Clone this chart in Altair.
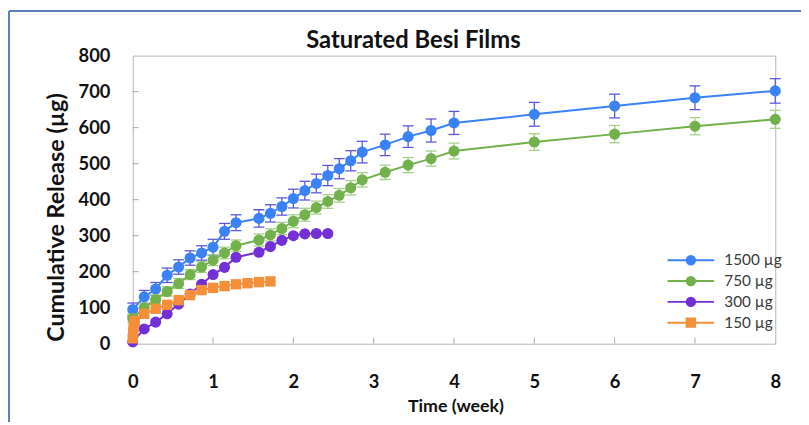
import altair as alt
import pandas as pd

# ---------------- data ----------------
title_text = "Saturated Besi Films"
x_title = "Time (week)"
y_title = "Cumulative Release (µg)"
x_ticks = [0, 1, 2, 3, 4, 5, 6, 7, 8]
y_ticks = [0, 100, 200, 300, 400, 500, 600, 700, 800]
x_minor = [1, 2, 3, 4, 5, 6, 7]
y_minor = [100, 200, 300, 400, 500, 600, 700]

series = ["1500 µg", "750 µg", "300 µg", "150 µg"]
colors = ["#3b82f6", "#72b14c", "#7230d6", "#f58f3a"]
err_colors = ["#5b57d9", "#a4d08a"]

days_1500 = [0, 1, 2, 3, 4, 5, 6, 7, 8, 9, 11, 12, 13, 14, 15, 16, 17, 18, 19, 20, 22, 24, 26, 28, 35, 42, 49, 56]
rel_1500 = [95, 130, 152, 190, 213, 238, 252, 268, 312, 336, 348, 362, 381, 403, 425, 445, 467, 486, 508, 532,
            552, 575, 592, 613, 637, 660, 683, 702]
sd_1500 = [18, 18, 18, 20, 20, 20, 20, 22, 22, 22, 24, 24, 24, 26, 26, 26, 28, 28, 28, 30,
           30, 30, 32, 32, 33, 33, 33, 34]

days_750 = [0, 1, 2, 3, 4, 5, 6, 7, 8, 9, 11, 12, 13, 14, 15, 16, 17, 18, 19, 20, 22, 24, 26, 28, 35, 42, 49, 56]
rel_750 = [70, 100, 122, 145, 167, 192, 213, 232, 252, 272, 288, 302, 320, 340, 358, 378, 395, 412, 433, 455,
           476, 496, 514, 535, 560, 582, 604, 623]
sd_750 = [12, 12, 13, 13, 14, 14, 15, 15, 16, 16, 17, 17, 17, 18, 18, 18, 19, 19, 20, 20,
          20, 21, 21, 22, 23, 24, 24, 25]

days_300 = [0, 1, 2, 3, 4, 5, 6, 7, 8, 9, 11, 12, 13, 14, 15, 16, 17]
rel_300 = [5, 41, 60, 83, 110, 138, 165, 192, 212, 240, 254, 270, 287, 300, 305, 306, 306]

days_150 = [0, 0.04, 0.08, 0.17, 1, 2, 3, 4, 5, 6, 7, 8, 9, 10, 11, 12]
rel_150 = [15, 32, 48, 63, 83, 97, 108, 121, 135, 149, 155, 160, 165, 168, 171, 173]

# ---------------- tables ----------------
def make_df(days, vals, sds=None):
    d = pd.DataFrame({"t": [x / 7 for x in days], "v": vals})
    if sds is not None:
        d["lo"] = [a - b for a, b in zip(vals, sds)]
        d["hi"] = [a + b for a, b in zip(vals, sds)]
    return d

df_1500 = make_df(days_1500, rel_1500, sd_1500)
df_750 = make_df(days_750, rel_750, sd_750)
df_300 = make_df(days_300, rel_300)
df_150 = make_df(days_150, rel_150)

xscale = alt.Scale(domain=[0, 8], nice=False, zero=False)
yscale = alt.Scale(domain=[0, 800], nice=False)

def X(field="t"):
    return alt.X(f"{field}:Q", scale=xscale, title=x_title,
                 axis=alt.Axis(values=x_ticks, format="d"))

def Y(field="v"):
    return alt.Y(f"{field}:Q", scale=yscale, title=y_title,
                 axis=alt.Axis(values=y_ticks, format="d"))

layers = []

def err_layers(d, c):
    out = []
    out.append(alt.Chart(d).mark_rule(color=c, strokeWidth=1.3).encode(x=X(), y=Y("lo"), y2="hi:Q"))
    out.append(alt.Chart(d).mark_tick(orient="horizontal", color=c, size=11, thickness=1.3, opacity=1)
               .encode(x=X(), y=Y("lo")))
    out.append(alt.Chart(d).mark_tick(orient="horizontal", color=c, size=11, thickness=1.3, opacity=1)
               .encode(x=X(), y=Y("hi")))
    return out

def line_layer(d, c):
    return alt.Chart(d).mark_line(color=c, strokeWidth=2).encode(x=X(), y=Y())

def circle_layer(d, c):
    return alt.Chart(d).mark_circle(color=c, size=125, opacity=1).encode(x=X(), y=Y())

def square_layer(d, c):
    return alt.Chart(d).mark_square(color=c, size=110, opacity=1).encode(x=X(), y=Y())

# axis tick marks (inside the frame)
xt = alt.Chart(pd.DataFrame({"t": x_minor})).mark_rule(color="#a8a8a8", strokeWidth=1).encode(
    x=X(), y=alt.value(291), y2=alt.value(285))
yt = alt.Chart(pd.DataFrame({"v": y_minor})).mark_rule(color="#a8a8a8", strokeWidth=1).encode(
    y=Y(), x=alt.value(0), x2=alt.value(6))
layers += [xt, yt]

layers += err_layers(df_1500, err_colors[0])
layers += [line_layer(df_1500, colors[0]), circle_layer(df_1500, colors[0])]
layers += err_layers(df_750, err_colors[1])
layers += [line_layer(df_750, colors[1]), circle_layer(df_750, colors[1])]
layers += [line_layer(df_300, colors[2]), circle_layer(df_300, colors[2])]
layers += [line_layer(df_150, colors[3]), square_layer(df_150, colors[3])]

# legend (line + marker symbols)
circ_path = "M-4.7,0H4.7M0.85,0A0.85,0.85,0,1,1,-0.85,0A0.85,0.85,0,1,1,0.85,0Z"
sq_path = "M-4.7,0H4.7M-0.85,-0.85H0.85V0.85H-0.85Z"
leg_kw = dict(orient="none", legendX=556, legendY=199, title=None, symbolSize=100,
              symbolStrokeWidth=2, labelOffset=26, labelFont="Lato", labelFontSize=15.5,
              labelColor="#3a3a3a", rowPadding=3, padding=0, symbolOpacity=1)
legend_df = pd.DataFrame({"series": series})
leg = alt.Chart(legend_df).transform_filter("false").mark_point(
    filled=True, size=100, strokeWidth=2, opacity=1).encode(
    fill=alt.Fill("series:N", scale=alt.Scale(domain=series, range=colors), legend=alt.Legend(**leg_kw)),
    stroke=alt.Stroke("series:N", scale=alt.Scale(domain=series, range=colors), legend=alt.Legend(**leg_kw)),
    shape=alt.Shape("series:N", scale=alt.Scale(domain=series, range=[circ_path, circ_path, circ_path, sq_path]),
                    legend=alt.Legend(**leg_kw)),
)
layers.append(leg)

# outer figure border
one = pd.DataFrame({"k": [0]})
b1 = alt.Chart(one).mark_rule(color="#5a82b4", strokeWidth=2).encode(
    x=alt.value(-125), y=alt.value(-45), y2=alt.value(370))
b2 = alt.Chart(one).mark_rule(color="#5a82b4", strokeWidth=2).encode(
    x=alt.value(-125), x2=alt.value(675), y=alt.value(-45))
layers += [b1, b2]

chart = alt.layer(*layers).properties(
    width=649, height=291,
    background="white",
    title=alt.TitleParams(text=title_text, font="Lato", fontSize=24, fontWeight="bold", color="#111111",
                          anchor="middle", frame="group", dx=-41, dy=70, offset=3, baseline="bottom"),
    autosize=alt.AutoSizeParams(type="none"),
    padding={"left": 126, "top": 46, "right": 26, "bottom": 78},
).configure_view(stroke="#b5b5b5", strokeWidth=1).configure_axis(
    grid=False, ticks=False, domain=False,
    labelFont="Lato", labelFontWeight="bold", labelFontSize=18.5, labelColor="#111111",
    titleFont="Lato", titleFontWeight="bold", titleColor="#111111",
).configure_axisX(
    labelPadding=38, labelBaseline="middle", labelFlush=False,
    titleFontSize=18, titleX=326, titleY=63, titleBaseline="middle", titleAlign="center",
).configure_axisY(
    labelPadding=23, titleFontSize=23.5, titleX=-77, titleY=163, titleBaseline="middle",
    titleAlign="center", titleAngle=270,
)

chart.save("out.html", embed_options={"renderer": "svg", "actions": False})
